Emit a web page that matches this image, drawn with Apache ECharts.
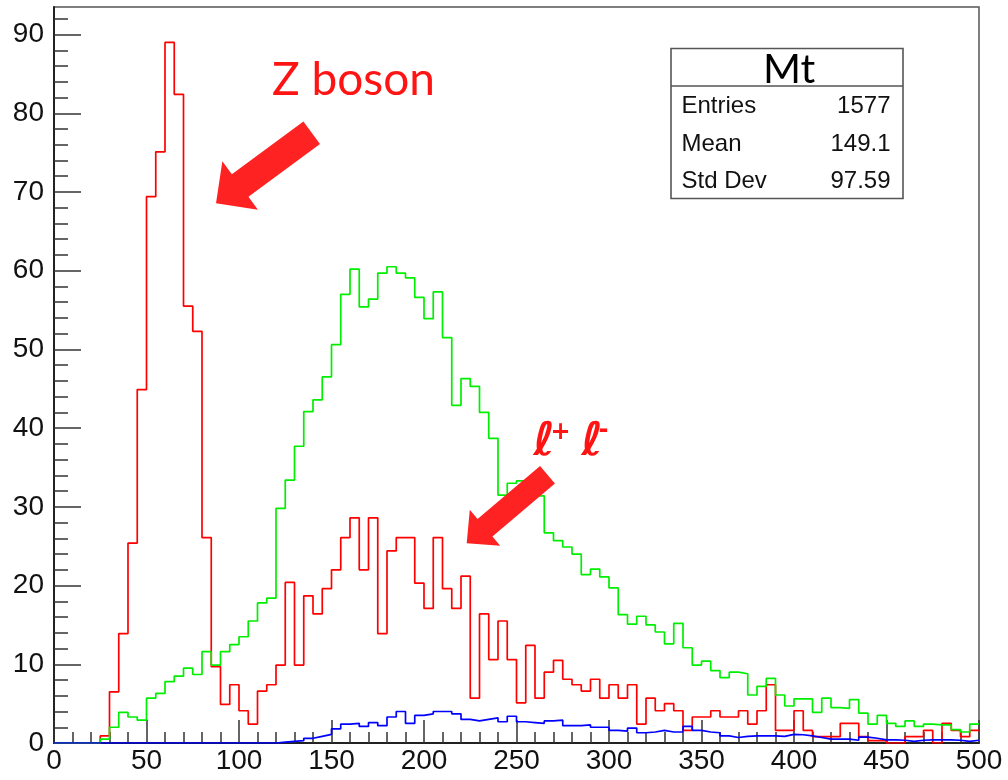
<!DOCTYPE html>
<html><head><meta charset="utf-8">
<script src="https://cdn.jsdelivr.net/npm/echarts@6/dist/echarts.min.js"></script>
<style>html,body{margin:0;padding:0;background:#fff}#c{width:1008px;height:780px}</style>
</head><body><div id="c"></div>
<script>
// ---- data (bin width 5, 0..500) ----
const binEdges = [0,5,10,15,20,25,30,35,40,45,50,55,60,65,70,75,80,85,90,95,100,105,110,115,120,125,130,135,140,145,150,155,160,165,170,175,180,185,190,195,200,205,210,215,220,225,230,235,240,245,250,255,260,265,270,275,280,285,290,295,300,305,310,315,320,325,330,335,340,345,350,355,360,365,370,375,380,385,390,395,400,405,410,415,420,425,430,435,440,445,450,455,460,465,470,475,480,485,490,495,500];

const redValues = [0,0,0,0,0, 0.9,6.5,13.9,25.4,44.9, 69.4,75.1,89.0,82.4,55.5, 52.3,26.1,9.7,4.9,7.4, 4.1,2.4,6.6,7.4,9.9, 20.4,9.9,18.7,16.4,19.6, 22.0,26.1,28.6,22.0,28.6, 13.9,24.4,26.1,26.1,20.3, 17.1,26.1,19.6,17.1,21.2, 5.7,16.4,10.6,15.5,10.6, 5.1,12.4,5.7,9.0,10.5, 8.1,7.4,6.6,8.1,5.7, 7.4,5.7,7.4,2.4,5.7, 4.1,5.0,4.1,1.6,3.3, 3.3,4.1,3.3,3.3,4.1, 2.4,4.1,7.4,1.6,1.6, 4.1,1.6,0.8,0.8,0.8, 2.5,2.5,0.8,0.3,0.3, 0,0,0.8,0.8,1.6, 0,2.5,1.6,0.8,1.6];

const greenValues = [0,0,0,0,0, 0.5,2.0,3.9,3.3,2.9, 5.7,6.3,7.8,8.5,9.5, 8.7,11.6,9.9,11.6,12.5, 13.5,15.5,17.8,18.4,29.8, 33.4,37.7,42.1,43.6,46.5, 50.6,57.0,60.2,55.4,56.4, 59.7,60.5,59.7,59.1,56.6, 53.9,57.3,51.5,42.9,46.3, 45.3,42.0,38.7,31.5,33.0, 33.3,32.2,31.4,26.7,25.7, 24.9,24.0,21.4,22.1,21.1, 19.7,16.3,15.1,16.1,15.0, 14.1,12.6,15.2,12.1,9.9, 10.4,9.2,8.3,9.0,8.8, 6.1,7.2,8.2,6.1,4.7, 5.6,5.6,3.9,5.7,4.5, 4.4,5.5,3.8,2.4,3.5, 2.5,2.1,2.8,2.1,2.4, 2.3,2.3,1.7,1.4,2.4];

const blueValues = [0,0,0,0,0, 0,0,0,0,0, 0,0,0,0,0, 0,0,0,0,0, 0,0,0,0,0.1, 0.2,0.3,0.6,0.85,1.1, 1.8,2.4,2.5,2.1,2.6, 2.2,3.3,4.0,2.5,3.5, 3.7,4.0,4.0,3.7,3.0, 2.8,3.0,3.2,2.7,3.4, 2.7,2.6,2.5,2.8,2.9, 2.2,2.2,2.3,2.0,2.0, 1.6,1.5,1.9,1.3,1.4, 1.6,1.4,1.4,2.1,1.6, 1.4,1.3,0.9,0.7,0.85, 0.9,0.9,0.9,0.85,1.1, 1.05,0.9,0.7,0.5,0.5, 0.5,0.35,0.75,0.6,0.4, 0.4,0.35,0.2,0.35,0.4, 0.4,0.4,0.35,0.2,0.35];

const xTickLabels = [0,50,100,150,200,250,300,350,400,450,500];
const yTickLabels = [0,10,20,30,40,50,60,70,80,90];
const yMinorTicks = [0,2,4,6,8,10,12,14,16,18,20,22,24,26,28,30,32,34,36,38,40,42,44,46,48,50,52,54,56,58,60,62,64,66,68,70,72,74,76,78,80,82,84,86,88,90,92];

const statsTitle = 'Mt';
const statsLabels = ['Entries', 'Mean', 'Std Dev'];
const statsValues = ['1577', '149.1', '97.59'];
const zText = 'Z boson';
const llText = ['ℓ', '+', 'ℓ', '-'];

// ---- build ----
function toSteps(vals) {
  const pts = vals.map((v, i) => [binEdges[i], v]);
  pts.push([binEdges[vals.length], vals[vals.length - 1]]);
  return pts;
}
function arrowPoints(tail, tip, shaftW, headW, headL) {
  const dx = tip[0] - tail[0], dy = tip[1] - tail[1];
  const L = Math.hypot(dx, dy), ux = dx / L, uy = dy / L, nx = -uy, ny = ux;
  const bx = tip[0] - ux * headL, by = tip[1] - uy * headL;
  return [
    [tail[0] + nx * shaftW / 2, tail[1] + ny * shaftW / 2],
    [bx + nx * shaftW / 2, by + ny * shaftW / 2],
    [bx + nx * headW / 2, by + ny * headW / 2],
    tip,
    [bx - nx * headW / 2, by - ny * headW / 2],
    [bx - nx * shaftW / 2, by - ny * shaftW / 2],
    [tail[0] - nx * shaftW / 2, tail[1] - ny * shaftW / 2]
  ];
}

const tickColor = '#333';
const labelFont = { fontSize: 28, color: '#111', fontFamily: 'Liberation Sans' };
const arrowColor = '#ff2222';
const textRed = '#ff1414';

const chart = echarts.init(document.getElementById('c'), null, { renderer: 'canvas' });

const statsBox = { x: 671, y: 48.5, w: 232, h: 150, sep: 86 };
const rowY = [105.9, 144.3, 180.9];

const graphic = [
  { type: 'rect', z: 100, shape: { x: statsBox.x, y: statsBox.y, width: statsBox.w, height: statsBox.h },
    style: { fill: '#fff', stroke: '#555', lineWidth: 1.6 } },
  { type: 'line', z: 101, shape: { x1: statsBox.x, y1: statsBox.sep, x2: statsBox.x + statsBox.w, y2: statsBox.sep },
    style: { stroke: '#555', lineWidth: 1.5 } },
  { type: 'text', z: 102, style: { text: statsTitle, x: statsBox.x + statsBox.w / 2 + 2, y: 69.8, align: 'center', verticalAlign: 'middle',
    font: '41px Lato', fill: '#000' } }
];
statsLabels.forEach((t, i) => {
  graphic.push({ type: 'text', z: 102, style: { text: t, x: 681.5, y: rowY[i], align: 'left', verticalAlign: 'middle', font: '24px "Liberation Sans"', fill: '#111' } });
  graphic.push({ type: 'text', z: 102, style: { text: statsValues[i], x: 890.5, y: rowY[i], align: 'right', verticalAlign: 'middle', font: '24px "Liberation Sans"', fill: '#111' } });
});
graphic.push({ type: 'polygon', z: 90, shape: { points: arrowPoints([311.7, 132.8], [216, 203.3], 28, 60, 30) }, style: { fill: arrowColor } });
graphic.push({ type: 'polygon', z: 90, shape: { points: arrowPoints([547.5, 474.7], [466.7, 543.3], 23, 47, 24) }, style: { fill: arrowColor } });
graphic.push({ type: 'text', z: 95, style: { text: zText, x: 272, y: 80.2, align: 'left', verticalAlign: 'middle', font: '46px Lato', fill: textRed } });
graphic.push({ type: 'text', z: 95, style: { text: llText[0], x: 544, y: 443, align: 'center', verticalAlign: 'middle', font: 'bold 46px "DejaVu Sans"', fill: textRed } });
graphic.push({ type: 'text', z: 95, style: { text: llText[1], x: 560.5, y: 433, align: 'center', verticalAlign: 'middle', font: 'bold 24px "DejaVu Sans"', fill: textRed } });
graphic.push({ type: 'text', z: 95, style: { text: llText[2], x: 592, y: 443, align: 'center', verticalAlign: 'middle', font: 'bold 46px "DejaVu Sans"', fill: textRed } });
graphic.push({ type: 'text', z: 95, style: { text: llText[3], x: 603.5, y: 431, align: 'center', verticalAlign: 'middle', font: 'bold 24px "DejaVu Sans"', fill: textRed } });

function histSeries(name, vals, color, z) {
  return { name, type: 'line', step: 'end', data: toSteps(vals), showSymbol: false, symbol: 'none', z,
    lineStyle: { color, width: 1.7 }, itemStyle: { color }, clip: true, silent: true };
}

chart.setOption({
  animation: false,
  backgroundColor: '#fff',
  grid: { left: 54, right: 29, top: 7, bottom: 37, show: true, borderColor: '#555', borderWidth: 1.5, backgroundColor: 'transparent' },
  xAxis: {
    type: 'value', min: 0, max: 500, interval: 50,
    axisLine: { show: true, onZero: false, lineStyle: { color: '#222', width: 2 } },
    axisTick: { show: true, inside: true, length: 23, lineStyle: { color: tickColor, width: 1.5 } },
    minorTick: { show: true, splitNumber: 5, length: 11, lineStyle: { color: tickColor, width: 1.5 } },
    splitLine: { show: false }, minorSplitLine: { show: false },
    axisLabel: Object.assign({ margin: 4, customValues: xTickLabels, showMinLabel: true, showMaxLabel: true }, labelFont)
  },
  yAxis: [
    {
      type: 'value', min: 0, max: 93.5, position: 'left',
      axisLine: { show: true, onZero: false, lineStyle: { color: '#222', width: 2 } },
      axisTick: { show: true, inside: true, length: 27, customValues: yTickLabels, lineStyle: { color: tickColor, width: 1.5 } },
      splitLine: { show: false },
      axisLabel: Object.assign({ margin: 10, customValues: yTickLabels }, labelFont)
    },
    {
      type: 'value', min: 0, max: 93.5, position: 'left',
      axisLine: { show: false },
      axisTick: { show: true, inside: true, length: 14, customValues: yMinorTicks, lineStyle: { color: tickColor, width: 1.5 } },
      splitLine: { show: false },
      axisLabel: { show: false }
    }
  ],
  series: [
    histSeries('Mt (red)', redValues, '#ff0000', 3),
    histSeries('Mt (green)', greenValues, '#00ee00', 4),
    histSeries('Mt (blue)', blueValues, '#0000ff', 5)
  ],
  graphic
});
</script>
</body></html>
